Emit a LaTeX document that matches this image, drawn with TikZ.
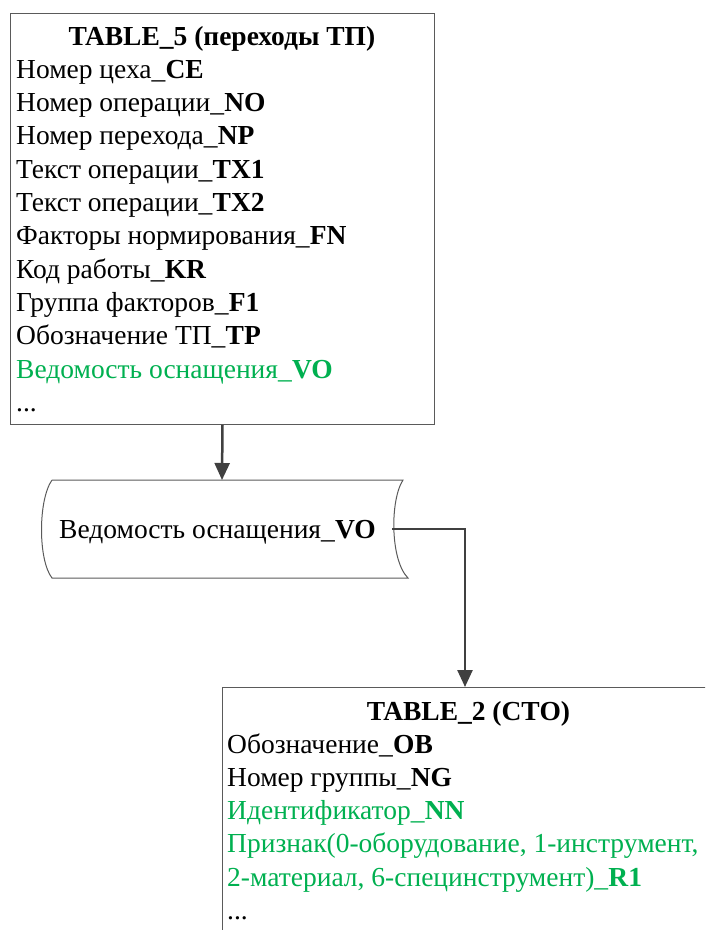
\documentclass[tikz,border=0pt]{standalone}
\usepackage{fontspec}
\setmainfont{Liberation Serif}
\usetikzlibrary{arrows.meta}
\definecolor{wgreen}{RGB}{0,176,80}
\definecolor{lnc}{RGB}{64,64,64}
\definecolor{boxc}{RGB}{90,90,90}
\begin{document}
\begin{tikzpicture}[x=1pt,y=1pt,
  tbox/.style={draw=boxc, line width=1pt, inner sep=0pt, anchor=north west},
  row/.style={anchor=base west, inner sep=0pt, font=\fontsize{27.5}{33}\selectfont},
  ttl/.style={anchor=base, inner sep=0pt, font=\fontsize{27.5}{33}\selectfont\bfseries},
  conn/.style={draw=lnc, line width=2.5pt, -{Triangle[length=17pt,width=15pt]}},
]
\useasboundingbox (0,0) rectangle (705,-930);
\clip (0,0) rectangle (705,-930);
% TABLE_5
\node[tbox, minimum width=424pt, minimum height=411pt] (t5) at (10,-13) {};
\node[ttl] (t5t) at (222,-45) {TABLE\_5 (переходы ТП)};
\node[row] (t5a) at (16,-78.3) {Номер цеха\_\textbf{CE}};
\node[row] (t5b) at (16,-111.6) {Номер операции\_\textbf{NO}};
\node[row] (t5c) at (16,-144.9) {Номер перехода\_\textbf{NP}};
\node[row] (t5d) at (16,-178.2) {Текст операции\_\textbf{TX1}};
\node[row] (t5e) at (16,-211.5) {Текст операции\_\textbf{TX2}};
\node[row] (t5f) at (16,-244.8) {Факторы нормирования\_\textbf{FN}};
\node[row] (t5g) at (16,-278.1) {Код работы\_\textbf{KR}};
\node[row] (t5h) at (16,-311.4) {Группа факторов\_\textbf{F1}};
\node[row] (t5i) at (16,-344.7) {Обозначение ТП\_\textbf{TP}};
\node[row, text=wgreen] (t5j) at (16,-378) {Ведомость оснащения\_\textbf{VO}};
\node[row] (t5k) at (16,-411.3) {...};
% stored data shape
\draw[draw=boxc, line width=1pt] (52,-480) -- (403,-480)
  .. controls (390,-500) and (390,-560) .. (408,-578)
  -- (52,-578)
  .. controls (38,-560) and (38,-500) .. (52,-480);
\node[anchor=base, inner sep=0pt, font=\fontsize{27.5}{33}\selectfont] (vo) at (217.5,-538) {Ведомость оснащения\_\textbf{VO}};
\coordinate (votop) at (222,-480);
\coordinate (voright) at (392,-529);
% TABLE_2
\node[tbox, minimum width=493pt, minimum height=300pt] (t2) at (222,-687) {};
\coordinate (t2top) at (465,-687);
\node[ttl] (t2t) at (468.5,-720) {TABLE\_2 (СТО)};
\node[row] (t2a) at (227,-753) {Обозначение\_\textbf{OB}};
\node[row] (t2b) at (227,-786.3) {Номер группы\_\textbf{NG}};
\node[row, text=wgreen] (t2c) at (227,-819.6) {Идентификатор\_\textbf{NN}};
\node[row, text=wgreen] (t2d) at (227,-852.9) {Признак(0-оборудование, 1-инструмент,};
\node[row, text=wgreen] (t2e) at (227,-886.2) {2-материал, 6-специнструмент)\_\textbf{R1}};
\node[row] (t2f) at (227,-919.5) {...};
% connectors
\draw[conn] (t5.south) -- (votop);
\draw[conn] (voright) -| (t2top);
\end{tikzpicture}
\end{document}
